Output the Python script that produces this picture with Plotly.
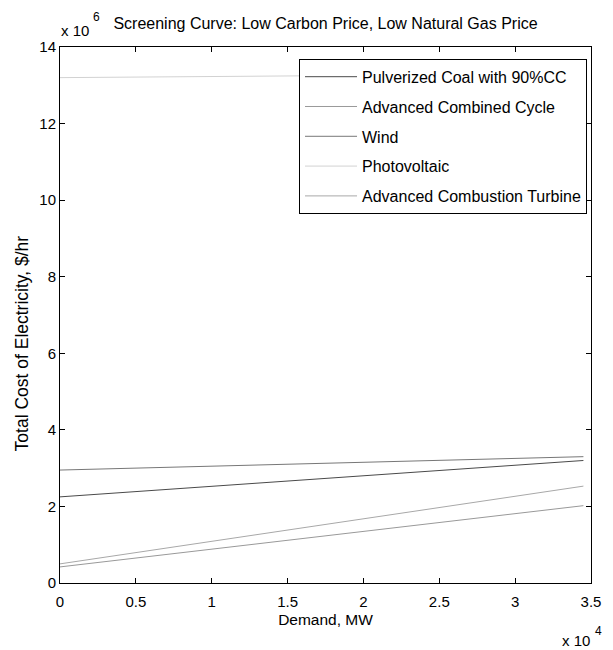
import plotly.graph_objects as go

# Data (demand in MW, cost in $/hr)
demand = [0, 10000, 20000, 34500]
coal_cc = [2.25e6, 2.53e6, 2.80e6, 3.20e6]
adv_cc = [0.42e6, 0.88e6, 1.35e6, 2.02e6]
wind = [2.95e6, 3.05e6, 3.15e6, 3.30e6]
pv = [13.20e6, 13.23e6, 13.26e6, 13.30e6]
adv_ct = [0.50e6, 1.09e6, 1.68e6, 2.53e6]

names = ["Pulverized Coal with 90%CC", "Advanced Combined Cycle", "Wind",
         "Photovoltaic", "Advanced Combustion Turbine"]
series = [coal_cc, adv_cc, wind, pv, adv_ct]
colors = ["#4a4a4a", "#999999", "#777777", "#d2d2d2", "#a8a8a8"]

x_ticks = [0, 5000, 10000, 15000, 20000, 25000, 30000, 35000]
x_tick_labels = ["0", "0.5", "1", "1.5", "2", "2.5", "3", "3.5"]
y_ticks = [0, 2e6, 4e6, 6e6, 8e6, 10e6, 12e6, 14e6]
y_tick_labels = ["0", "2", "4", "6", "8", "10", "12", "14"]

FONT = "Liberation Sans, Arial, Helvetica, sans-serif"
PW, PH = 537, 536  # plot area size in px

fig = go.Figure()
for i, (nm, ys, c) in enumerate(zip(names, series, colors)):
    fig.add_trace(go.Scatter(x=demand, y=ys, mode="lines", name=nm,
                             legendgroup=f"g{i}",
                             line=dict(color=c, width=1)))

fig.update_layout(
    width=613, height=650,
    margin=dict(l=60, r=16, t=47, b=67),
    paper_bgcolor="white", plot_bgcolor="white",
    font=dict(family=FONT, size=15, color="black"),
    showlegend=True,
    title=dict(text="Screening Curve: Low Carbon Price, Low Natural Gas Price",
               x=0.5, xref="paper", xanchor="center",
               y=1 - 23 / 650, yref="container", yanchor="middle",
               font=dict(family=FONT, size=16, color="black")),
    legend=dict(x=0.9925, y=0.978, xanchor="right", yanchor="top",
                bgcolor="white", bordercolor="black", borderwidth=1,
                font=dict(family=FONT, size=16, color="black"),
                itemwidth=52, tracegroupgap=6, traceorder="grouped"),
    xaxis=dict(range=[0, 35000], tickvals=x_ticks, ticktext=x_tick_labels,
               showgrid=False, zeroline=False, showline=True, linecolor="black",
               linewidth=1, mirror="ticks", ticks="inside", ticklen=5,
               tickcolor="black", tickfont=dict(size=15), ticklabelstandoff=5,
               title=dict(text="Demand, MW", font=dict(size=15.5), standoff=5)),
    yaxis=dict(range=[0, 14e6], tickvals=y_ticks, ticktext=y_tick_labels,
               showgrid=False, zeroline=False, showline=True, linecolor="black",
               linewidth=1, mirror="ticks", ticks="inside", ticklen=5,
               tickcolor="black", tickfont=dict(size=15)),
    annotations=[
        dict(text="Total Cost of Electricity, $/hr", xref="paper", yref="paper",
             x=-38 / PW, y=(583 - 343) / PH, xanchor="center", yanchor="middle",
             textangle=-90, showarrow=False, font=dict(family=FONT, size=17.5)),
        dict(text="x 10", xref="paper", yref="paper",
             x=-1 / PW, y=1.0 + 16 / PH, xanchor="left", yanchor="middle",
             showarrow=False, font=dict(family=FONT, size=15)),
        dict(text="6", xref="paper", yref="paper",
             x=31 / PW, y=1.0 + 30 / PH, xanchor="left", yanchor="middle",
             showarrow=False, font=dict(family=FONT, size=12)),
        dict(text="x 10", xref="paper", yref="paper",
             x=1.0 + 1 / PW, y=-57 / PH, xanchor="right", yanchor="middle",
             showarrow=False, font=dict(family=FONT, size=15)),
        dict(text="4", xref="paper", yref="paper",
             x=1.0 + 2 / PW, y=-48 / PH, xanchor="left", yanchor="middle",
             showarrow=False, font=dict(family=FONT, size=12)),
    ],
)

fig.write_html("out.html")
